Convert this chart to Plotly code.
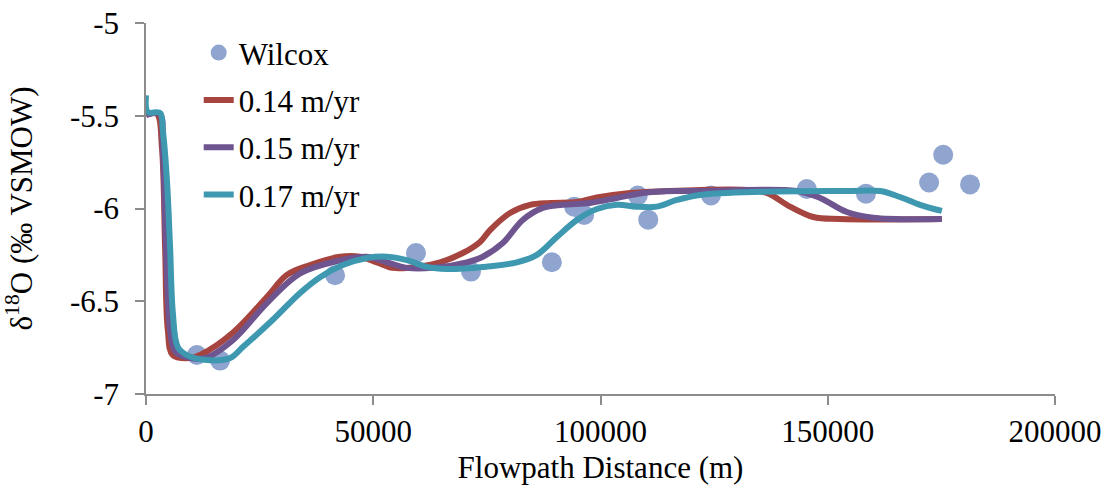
import plotly.graph_objects as go

# Wilcox observations
wilcox_x = [11200, 16300, 41600, 59400, 71500, 89300, 94200, 96400, 108200, 110500,
            124300, 145400, 158400, 172300, 175400, 181300]
wilcox_y = [-6.79, -6.82, -6.36, -6.24, -6.34, -6.29, -5.99, -6.035, -5.93, -6.06,
            -5.93, -5.895, -5.92, -5.86, -5.71, -5.87]

# 0.14 m/yr
r_x = [0, 2400, 3500, 4200, 4800, 5900, 9700, 11900, 19100, 26600, 31000, 36100, 42700,
       47100, 50800, 54300, 59600, 64700, 69700, 73500, 75700, 80100, 84500, 88900, 94800,
       99200, 106500, 114600, 121900, 132200, 136600, 141700, 146800, 152700, 175100]
r_y = [-5.496, -5.49, -5.67, -6.21, -6.655, -6.79, -6.806, -6.79, -6.67, -6.477, -6.358,
       -6.305, -6.26, -6.26, -6.29, -6.32, -6.315, -6.29, -6.24, -6.18, -6.116, -6.024,
       -5.98, -5.97, -5.965, -5.94, -5.916, -5.906, -5.90, -5.90, -5.916, -5.99, -6.046,
       -6.057, -6.057]

# 0.15 m/yr
p_x = [0, 3000, 3700, 4400, 5300, 6400, 8600, 13000, 19100, 26600, 33900, 42700, 48600,
       53000, 57400, 63100, 70600, 74100, 78500, 82900, 87300, 91700, 97700, 103600,
       109400, 116800, 121900, 143200, 148300, 154200, 160000, 175100]
p_y = [-5.496, -5.49, -5.685, -6.21, -6.655, -6.77, -6.80, -6.806, -6.71, -6.51, -6.35,
       -6.28, -6.26, -6.29, -6.32, -6.32, -6.29, -6.26, -6.186, -6.062, -5.997, -5.98,
       -5.97, -5.943, -5.916, -5.906, -5.906, -5.906, -5.943, -6.019, -6.05, -6.057]

# 0.17 m/yr
t_x = [0, 400, 3100, 3700, 4600, 5300, 5900, 7000, 9000, 13400, 18500, 21300, 27900,
       33900, 38300, 43300, 48600, 53000, 57400, 61800, 66200, 74100, 81600, 86000,
       90400, 94800, 99200, 103600, 108000, 112400, 116800, 121900, 135800, 154200,
       161500, 165900, 170300, 175100]
t_y = [-5.39, -5.48, -5.485, -5.577, -5.846, -6.21, -6.56, -6.747, -6.79, -6.817, -6.806,
       -6.747, -6.60, -6.455, -6.37, -6.305, -6.267, -6.26, -6.278, -6.315, -6.326,
       -6.315, -6.29, -6.25, -6.154, -6.062, -6.003, -5.98, -5.99, -5.99, -5.954, -5.927,
       -5.91, -5.906, -5.906, -5.938, -5.98, -6.013]

y_ticks = [-7, -6.5, -6, -5.5, -5]
y_ticktext = ["-7", "-6.5", "-6", "-5.5", "-5"]
x_ticks = [0, 50000, 100000, 150000, 200000]
x_ticktext = ["0", "50000", "100000", "150000", "200000"]

FONT = "Liberation Serif"
FS = 31

fig = go.Figure()
fig.add_trace(go.Scatter(x=wilcox_x, y=wilcox_y, mode="markers", name="Wilcox",
                         legendgroup="a",
                         marker=dict(size=20, color="#8FA5CF")))
for name, xs, ys, col, g in [("0.14 m/yr", r_x, r_y, "#A6443F", "b"),
                             ("0.15 m/yr", p_x, p_y, "#6F558F", "c"),
                             ("0.17 m/yr", t_x, t_y, "#3D98B0", "d")]:
    fig.add_trace(go.Scatter(x=xs, y=ys, mode="lines", name=name, legendgroup=g,
                             line=dict(color=col, width=6, shape="spline", smoothing=1.0)))

axis_common = dict(showgrid=False, zeroline=False, showline=True, linecolor="#8C8C8C",
                   linewidth=1.5, ticks="outside", ticklen=9, tickcolor="#8C8C8C",
                   tickwidth=1.5, automargin=False,
                   tickfont=dict(family=FONT, size=FS, color="black"))

fig.update_xaxes(range=[0, 200000], tickvals=x_ticks, ticktext=x_ticktext,
                 ticklabelstandoff=0,
                 title=dict(text="Flowpath Distance (m)", font=dict(family=FONT, size=FS, color="black"),
                            standoff=8),
                 **axis_common)
fig.update_yaxes(range=[-7, -5], tickvals=y_ticks, ticktext=y_ticktext,
                 ticklabelstandoff=10,
                 title=dict(text="δ<sup>18</sup>O (‰ VSMOW)", font=dict(family=FONT, size=FS, color="black"),
                            standoff=30),
                 **axis_common)

fig.update_layout(
    width=1111, height=497,
    margin=dict(l=146, r=56, t=23, b=103),
    paper_bgcolor="white", plot_bgcolor="white",
    font=dict(family=FONT, size=FS, color="black"),
    showlegend=True,
    legend=dict(x=0.058, y=0.992, xanchor="left", yanchor="top",
                bgcolor="rgba(0,0,0,0)", tracegroupgap=4,
                traceorder="grouped", font=dict(family=FONT, size=FS, color="black")),
)

fig.write_html("out.html")
